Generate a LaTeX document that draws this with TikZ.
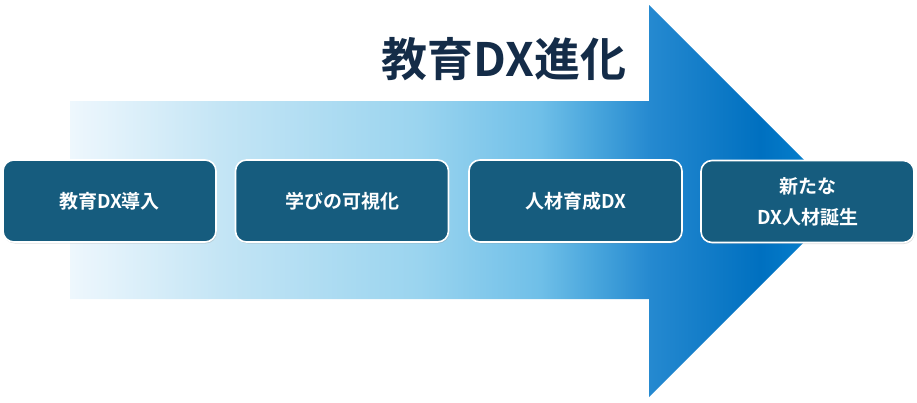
\documentclass[tikz,border=0pt]{standalone}
\usepackage{fontspec}
\newfontfamily\jp{Noto Sans CJK JP}[BoldFont=* Bold]
\usetikzlibrary{shadows}
\definecolor{sA}{HTML}{EEF7FD}
\definecolor{sB}{HTML}{C4E5F5}
\definecolor{sC}{HTML}{9AD4EF}
\definecolor{sD}{HTML}{6FBFE8}
\definecolor{sE}{HTML}{45A3DB}
\definecolor{sF}{HTML}{2589D0}
\definecolor{sG}{HTML}{0070C0}
\definecolor{sH}{HTML}{0A8AD6}
\definecolor{boxfill}{HTML}{165C7E}
\definecolor{titlecol}{HTML}{142C48}
\pgfdeclarehorizontalshading{arrowshade}{100bp}{color(0bp)=(sA); color(25bp)=(sA); color(34.68bp)=(sB); color(47.58bp)=(sC); color(55.32bp)=(sD); color(59.19bp)=(sE); color(62.42bp)=(sF); color(69.52bp)=(sG); color(75bp)=(sH); color(100bp)=(sH)}
\tikzset{
  stagebox/.style={draw=white, line width=1.6pt, fill=boxfill, rounded corners=11pt,
    minimum width=213pt, minimum height=82pt, inner sep=0pt, text=white,
    font=\jp\bfseries\fontsize{19pt}{31pt}\selectfont, align=center,
    drop shadow={opacity=0.25, shadow xshift=0.8pt, shadow yshift=-1.5pt}},
  titletext/.style={text=titlecol, font=\jp\bfseries\fontsize{46pt}{50pt}\selectfont, inner sep=0pt}
}
\begin{document}
\begin{tikzpicture}[x=1pt,y=-1pt]
\useasboundingbox (0,0) rectangle (917,402);
\shade[shading=arrowshade] (70,101) -- (649,101) -- (649,5) -- (845,201) -- (649,397) -- (649,299) -- (70,299) -- cycle;
\node[titletext] (title) at (504,59) {教育DX進化};
\node[stagebox] (s1) at (109.5,201) {教育DX導入};
\node[stagebox] (s2) at (342,201) {学びの可視化};
\node[stagebox] (s3) at (575.5,201) {人材育成DX};
\node[stagebox] (s4) at (807.5,201.5) {新たな\\DX人材誕生};
\end{tikzpicture}
\end{document}
